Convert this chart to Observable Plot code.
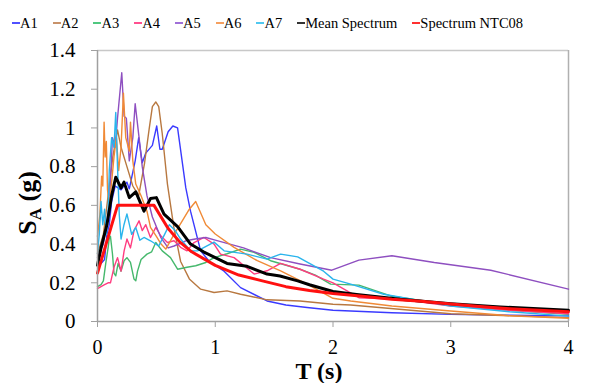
<!DOCTYPE html>
<html><head><meta charset="utf-8">
<script src="https://cdn.jsdelivr.net/npm/d3@7"></script>
<script src="https://cdn.jsdelivr.net/npm/@observablehq/plot@0.6"></script>
<style>
body{margin:0;background:#fff;font-family:'Liberation Serif';}
#legend{height:28px;display:flex;gap:15px;padding-left:12px;font-size:14.5px;box-sizing:border-box;padding-top:14px;font-family:'Liberation Serif';}
.item{display:flex;align-items:center;white-space:nowrap;line-height:18px;height:18px}
.sw{width:8px;height:1.5px;}
#chart svg{display:block}
</style></head><body>
<div id="legend"></div><div id="chart"></div>
<script>
const SERIF = "Liberation Serif";

// Tick values
const xTicks = [0, 1, 2, 3, 4];
const yTicks = [0, 0.2, 0.4, 0.6, 0.8, 1, 1.2, 1.4];

// Series names and colours
const names = ["A1","A2","A3","A4","A5","A6","A7","Mean Spectrum","Spectrum NTC08"];
const colors = ["#3a3aff","#b87840","#45b86c","#ff3d80","#8e4fc0","#f08a36","#2ab4ec","#000000","#ff1010"];
const legendColors = ["#5050ff","#c8926a","#50c880","#ff5090","#a070d8","#f5a060","#50c8f0","#333333","#ff3030"];

// [T (s), SA (g)]
const A1 = [[0,0.30],[0.03,0.30],[0.06,0.32],[0.08,0.45],[0.1,0.5],[0.12,0.62],[0.15,0.7],[0.2,0.68],[0.25,0.72],[0.27,0.685],[0.32,0.83],[0.35,0.95],[0.38,0.82],[0.41,0.87],[0.466,0.91],[0.503,1.01],[0.53,0.89],[0.55,0.89],[0.6,0.98],[0.64,1.01],[0.68,1.0],[0.75,0.69],[0.79,0.57],[0.876,0.365],[0.95,0.31],[1.075,0.26],[1.215,0.175],[1.44,0.106],[1.6,0.085],[1.78,0.072],[2.0,0.058],[2.5,0.045],[3.0,0.037],[3.5,0.032],[4.0,0.029]];
const A2 = [[0,0.35],[0.05,0.45],[0.1,0.7],[0.13,0.85],[0.17,0.99],[0.2,0.9],[0.25,0.8],[0.3,0.7],[0.35,0.65],[0.4,0.82],[0.44,1.0],[0.466,1.11],[0.495,1.134],[0.52,1.11],[0.55,0.97],[0.594,0.71],[0.65,0.48],[0.706,0.31],[0.78,0.22],[0.876,0.167],[0.99,0.15],[1.1,0.158],[1.215,0.141],[1.44,0.112],[1.72,0.106],[2.0,0.089],[2.15,0.085],[3.0,0.04],[4.0,0.02]];
const A3 = [[0,0.18],[0.03,0.19],[0.05,0.21],[0.07,0.3],[0.09,0.38],[0.1,0.43],[0.11,0.44],[0.127,0.35],[0.14,0.25],[0.155,0.236],[0.175,0.3],[0.2,0.26],[0.226,0.314],[0.25,0.33],[0.28,0.305],[0.31,0.219],[0.325,0.21],[0.34,0.26],[0.37,0.32],[0.42,0.348],[0.46,0.36],[0.495,0.408],[0.55,0.365],[0.62,0.33],[0.68,0.27],[0.76,0.28],[0.834,0.288],[0.92,0.305],[0.99,0.33],[1.1,0.35],[1.215,0.374],[1.33,0.357],[1.47,0.314],[1.72,0.27],[1.85,0.24],[1.98,0.193],[2.22,0.188],[2.49,0.132],[3.0,0.086],[3.5,0.058],[4.0,0.037]];
const A4 = [[0,0.17],[0.03,0.18],[0.06,0.19],[0.09,0.2],[0.11,0.2],[0.14,0.28],[0.17,0.33],[0.2,0.26],[0.226,0.365],[0.25,0.426],[0.28,0.38],[0.31,0.47],[0.353,0.52],[0.38,0.47],[0.41,0.5],[0.45,0.434],[0.495,0.486],[0.537,0.443],[0.594,0.408],[0.65,0.417],[0.706,0.383],[0.76,0.365],[0.82,0.408],[0.904,0.434],[0.99,0.40],[1.045,0.348],[1.16,0.33],[1.33,0.245],[1.44,0.262],[1.555,0.3],[1.72,0.27],[1.92,0.219],[2.0,0.2],[2.22,0.123],[2.57,0.115],[3.0,0.08],[3.5,0.058],[4.0,0.04]];
const A5 = [[0,0.33],[0.05,0.4],[0.1,0.6],[0.127,0.95],[0.15,0.9],[0.17,1.05],[0.206,1.285],[0.226,1.06],[0.245,1.05],[0.27,0.83],[0.3,0.95],[0.32,1.125],[0.353,0.95],[0.38,0.8],[0.42,0.65],[0.466,0.54],[0.537,0.435],[0.6,0.38],[0.65,0.39],[0.75,0.417],[0.83,0.426],[0.92,0.434],[1.0,0.42],[1.24,0.38],[1.47,0.33],[1.72,0.297],[1.99,0.265],[2.22,0.317],[2.5,0.34],[2.86,0.305],[3.34,0.265],[4.0,0.167]];
const A6 = [[0,0.44],[0.02,0.55],[0.035,0.75],[0.045,0.7],[0.056,1.03],[0.065,0.85],[0.075,0.93],[0.085,0.68],[0.1,0.6],[0.12,0.72],[0.14,0.85],[0.16,0.95],[0.18,0.78],[0.2,0.9],[0.22,1.18],[0.24,0.95],[0.27,0.88],[0.28,1.03],[0.3,0.83],[0.325,0.71],[0.37,0.65],[0.42,0.57],[0.45,0.486],[0.5,0.44],[0.54,0.4],[0.58,0.374],[0.65,0.45],[0.72,0.52],[0.78,0.58],[0.834,0.62],[0.92,0.5],[1.0,0.452],[1.16,0.383],[1.357,0.314],[1.555,0.262],[1.78,0.193],[2.0,0.12],[2.15,0.106],[2.5,0.08],[3.0,0.054],[3.5,0.03],[4.0,0.017]];
const A7 = [[0,0.35],[0.015,0.45],[0.03,0.62],[0.045,0.5],[0.06,0.58],[0.075,0.45],[0.09,0.55],[0.1,0.78],[0.12,0.95],[0.14,0.9],[0.155,1.08],[0.17,0.8],[0.185,0.55],[0.2,0.426],[0.225,0.5],[0.25,0.556],[0.29,0.45],[0.325,0.486],[0.36,0.42],[0.395,0.434],[0.45,0.417],[0.52,0.39],[0.57,0.45],[0.61,0.5],[0.66,0.47],[0.706,0.426],[0.79,0.365],[0.85,0.365],[0.99,0.41],[1.075,0.365],[1.27,0.348],[1.44,0.322],[1.555,0.348],[1.7,0.334],[1.92,0.26],[2.0,0.219],[2.15,0.193],[2.43,0.141],[3.0,0.08],[3.5,0.05],[4.0,0.028]];
const MEAN = [[0,0.29],[0.03,0.38],[0.08,0.5],[0.12,0.65],[0.155,0.745],[0.2,0.69],[0.225,0.72],[0.27,0.64],[0.325,0.67],[0.395,0.57],[0.45,0.635],[0.5,0.64],[0.565,0.555],[0.68,0.49],[0.79,0.40],[0.9,0.36],[1.0,0.33],[1.1,0.30],[1.27,0.285],[1.44,0.245],[1.55,0.235],[1.7,0.21],[1.8,0.19],[2.0,0.155],[2.2,0.14],[2.57,0.115],[3.0,0.092],[3.42,0.075],[4.0,0.058]];
const NTC08 = [[0,0.25],[0.17,0.6],[0.48,0.6],[0.6,0.48],[0.7,0.41],[0.8,0.36],[1.0,0.29],[1.2,0.24],[1.4,0.21],[1.6,0.18],[1.8,0.16],[2.0,0.145],[2.25,0.13],[2.5,0.115],[2.75,0.105],[3.0,0.09],[3.25,0.077],[3.5,0.066],[3.75,0.058],[4.0,0.051]];

const datasets = [A1, A2, A3, A4, A5, A6, A7, MEAN, NTC08];
const widths = [1.4,1.4,1.4,1.4,1.4,1.4,1.4,3,3];

// legend
const legend = document.getElementById("legend");
names.forEach((n, i) => {
  const it = document.createElement("div");
  it.className = "item";
  const sw = document.createElement("span");
  sw.className = "sw";
  sw.style.background = legendColors[i];
  const tx = document.createElement("span");
  tx.textContent = n;
  it.appendChild(sw); it.appendChild(tx);
  legend.appendChild(it);
});

const plot = Plot.plot({
  width: 601, height: 355,
  marginTop: 22, marginBottom: 62, marginLeft: 97, marginRight: 33,
  style: {fontFamily: SERIF, fontSize: "21px", background: "white", overflow: "visible"},
  x: {domain: [0, 4]},
  y: {domain: [0, 1.4]},
  marks: [
    Plot.ruleY([1.4], {stroke: "#c8c8c8", strokeWidth: 1.5}),
    Plot.ruleX([4], {stroke: "#b0b0b0", strokeWidth: 1.5}),
    ...datasets.map((d, i) => Plot.line(d, {x: p => p[0], y: p => p[1], stroke: colors[i], strokeWidth: widths[i]})),
    Plot.ruleX([0], {stroke: "#a0a0a0", strokeWidth: 1.5}),
    Plot.ruleY([0], {stroke: "#a0a0a0", strokeWidth: 1.5}),
    Plot.axisX({ticks: xTicks, tickSize: 6, tickPadding: 12, stroke: "#a0a0a0", fill: "black", label: null, fontSize: 20, tickFormat: d => String(d)}),
    Plot.axisY({ticks: yTicks, tickSize: 6, tickPadding: 16, stroke: "#a0a0a0", fill: "black", label: null, fontSize: 21, tickFormat: d => String(+d.toFixed(1))})
  ]
});
document.getElementById("chart").appendChild(plot);

const svg = d3.select(plot);
svg.append("text")
  .attr("x", 319).attr("y", 351)
  .attr("text-anchor", "middle")
  .attr("font-weight", "bold").attr("font-size", 24)
  .attr("fill", "black")
  .text("T (s)");
const yt = svg.append("text")
  .attr("transform", "translate(36,175) rotate(-90)")
  .attr("text-anchor", "middle")
  .attr("font-weight", "bold").attr("font-size", 26)
  .attr("fill", "black");
yt.append("tspan").text("S");
yt.append("tspan").attr("font-size", 17).attr("dy", 5).text("A");
yt.append("tspan").attr("dy", -5).text(" (g)");
svg.selectAll("text, tspan").attr("font-family", SERIF).style("font-family", SERIF);
</script>
</body></html>
